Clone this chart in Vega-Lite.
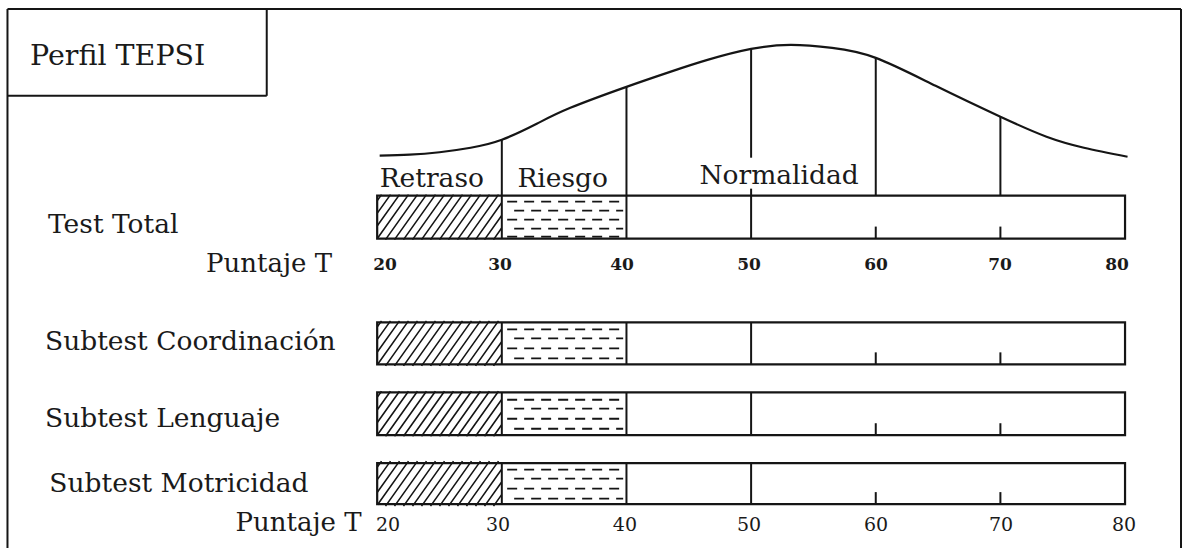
{
  "$schema": "https://vega.github.io/schema/vega-lite/v6.json",
  "width": 1184,
  "height": 549,
  "autosize": {"type": "fit", "contains": "padding"},
  "padding": 0,
  "background": "white",
  "config": {"view": {"stroke": null}},
  "datasets": {
    "curve": [
      {"t": 20.2, "y": 156}, {"t": 22.6, "y": 155}, {"t": 25, "y": 152.5}, {"t": 27.5, "y": 148},
      {"t": 30, "y": 140}, {"t": 32.8, "y": 124}, {"t": 35.5, "y": 108}, {"t": 40, "y": 87},
      {"t": 43.5, "y": 72}, {"t": 46.5, "y": 60}, {"t": 50, "y": 49}, {"t": 53.2, "y": 45},
      {"t": 56.5, "y": 48}, {"t": 60, "y": 58}, {"t": 64.8, "y": 86}, {"t": 70, "y": 117},
      {"t": 73.7, "y": 137}, {"t": 76.7, "y": 148}, {"t": 80.2, "y": 157}
    ],
    "bars": [
      {"row": "Test Total", "lo": 20, "hi": 80, "top": 196, "bottom": 239, "mid": 217.5},
      {"row": "Subtest Coordinación", "lo": 20, "hi": 80, "top": 323, "bottom": 365, "mid": 344},
      {"row": "Subtest Lenguaje", "lo": 20, "hi": 80, "top": 393, "bottom": 436, "mid": 414.5},
      {"row": "Subtest Motricidad", "lo": 20, "hi": 80, "top": 464, "bottom": 505, "mid": 484.5}
    ],
    "segs": [
      {"x": -9.66, "x2": -9.66, "y": 9, "y2": 549},
      {"x": -9.66, "x2": 84.49, "y": 9, "y2": 9},
      {"x": 84.49, "x2": 84.49, "y": 9, "y2": 549},
      {"x": 11.14, "x2": 11.14, "y": 9, "y2": 96},
      {"x": -9.66, "x2": 11.14, "y": 96, "y2": 96},
      {"x": 30, "x2": 30, "y": 140, "y2": 196},
      {"x": 40, "x2": 40, "y": 87, "y2": 196},
      {"x": 50, "x2": 50, "y": 49, "y2": 158},
      {"x": 50, "x2": 50, "y": 189, "y2": 196},
      {"x": 60, "x2": 60, "y": 58, "y2": 196},
      {"x": 70, "x2": 70, "y": 117, "y2": 196},
      {"x": 30, "x2": 30, "y": 196, "y2": 239},
      {"x": 40, "x2": 40, "y": 196, "y2": 239},
      {"x": 50, "x2": 50, "y": 196, "y2": 239},
      {"x": 30, "x2": 30, "y": 323, "y2": 365},
      {"x": 40, "x2": 40, "y": 323, "y2": 365},
      {"x": 50, "x2": 50, "y": 323, "y2": 365},
      {"x": 30, "x2": 30, "y": 393, "y2": 436},
      {"x": 40, "x2": 40, "y": 393, "y2": 436},
      {"x": 50, "x2": 50, "y": 393, "y2": 436},
      {"x": 30, "x2": 30, "y": 464, "y2": 505},
      {"x": 40, "x2": 40, "y": 464, "y2": 505},
      {"x": 50, "x2": 50, "y": 464, "y2": 505},
      {"x": 60, "x2": 60, "y": 227, "y2": 239},
      {"x": 70, "x2": 70, "y": 227, "y2": 239},
      {"x": 60, "x2": 60, "y": 353, "y2": 365},
      {"x": 70, "x2": 70, "y": 353, "y2": 365},
      {"x": 60, "x2": 60, "y": 424, "y2": 436},
      {"x": 70, "x2": 70, "y": 424, "y2": 436},
      {"x": 60, "x2": 60, "y": 493, "y2": 505},
      {"x": 70, "x2": 70, "y": 493, "y2": 505}
    ],
    "texts": [
      {"text": "Perfil TEPSI", "x": -7.85, "y": 65, "kind": "title"},
      {"text": "Retraso", "x": 20.2, "y": 187, "kind": "zone"},
      {"text": "Riesgo", "x": 31.25, "y": 187, "kind": "zone"},
      {"text": "Normalidad", "x": 45.85, "y": 184, "kind": "zone"},
      {"text": "Test Total", "x": -6.41, "y": 233, "kind": "row"},
      {"text": "Subtest Coordinación", "x": -6.65, "y": 351, "kind": "row"},
      {"text": "Subtest Lenguaje", "x": -6.65, "y": 428, "kind": "row"},
      {"text": "Subtest Motricidad", "x": -6.3, "y": 493, "kind": "row"},
      {"text": "Puntaje T", "x": 16.38, "y": 272, "kind": "unit"},
      {"text": "Puntaje T", "x": 18.75, "y": 532, "kind": "unit"},
      {"text": "20", "x": 20.63, "y": 270, "kind": "tick1"},
      {"text": "30", "x": 29.86, "y": 270, "kind": "tick1"},
      {"text": "40", "x": 39.64, "y": 270, "kind": "tick1"},
      {"text": "50", "x": 49.83, "y": 270, "kind": "tick1"},
      {"text": "60", "x": 60.02, "y": 270, "kind": "tick1"},
      {"text": "70", "x": 69.97, "y": 270, "kind": "tick1"},
      {"text": "80", "x": 79.36, "y": 270, "kind": "tick1"},
      {"text": "20", "x": 20.87, "y": 532, "kind": "tick2"},
      {"text": "30", "x": 29.7, "y": 532, "kind": "tick2"},
      {"text": "40", "x": 39.88, "y": 532, "kind": "tick2"},
      {"text": "50", "x": 49.83, "y": 532, "kind": "tick2"},
      {"text": "60", "x": 60.02, "y": 532, "kind": "tick2"},
      {"text": "70", "x": 70.05, "y": 532, "kind": "tick2"},
      {"text": "80", "x": 79.92, "y": 532, "kind": "tick2"}
    ]
  },
  "layer": [
    {
      "data": {"name": "bars"},
      "mark": {
        "type": "point",
        "shape": "M-1,-0.272L-0.935,-0.363M-1,-0.068L-0.79,-0.363M-1,0.136L-0.645,-0.363M-1,0.34L-0.5,-0.363M-0.871,0.363L-0.355,-0.363M-0.726,0.363L-0.21,-0.363M-0.581,0.363L-0.065,-0.363M-0.435,0.363L0.081,-0.363M-0.29,0.363L0.226,-0.363M-0.145,0.363L0.371,-0.363M0,0.363L0.516,-0.363M0.145,0.363L0.661,-0.363M0.29,0.363L0.806,-0.363M0.435,0.363L0.952,-0.363M0.581,0.363L1,-0.227M0.726,0.363L1,-0.023M0.871,0.363L1,0.181",
        "size": 15376,
        "filled": false,
        "stroke": "#151515",
        "strokeWidth": 1.6,
        "opacity": 1
      },
      "encoding": {
        "x": {"datum": 25, "type": "quantitative", "scale": {"domain": [-10.26, 84.73], "nice": false, "zero": false}, "axis": null},
        "y": {"field": "mid", "type": "quantitative", "scale": {"domain": [0, 549], "reverse": true, "nice": false, "zero": false}, "axis": null}
      }
    },
    {
      "data": {"name": "bars"},
      "transform": [{"filter": "datum.row === 'Test Total'"}],
      "mark": {
        "type": "point",
        "shape": "M-0.919,-0.25L-0.758,-0.25M-0.645,-0.25L-0.484,-0.25M-0.371,-0.25L-0.21,-0.25M-0.097,-0.25L0.065,-0.25M0.177,-0.25L0.339,-0.25M0.452,-0.25L0.613,-0.25M0.726,-0.25L0.887,-0.25M-0.806,-0.105L-0.645,-0.105M-0.532,-0.105L-0.371,-0.105M-0.258,-0.105L-0.097,-0.105M0.016,-0.105L0.177,-0.105M0.29,-0.105L0.452,-0.105M0.565,-0.105L0.726,-0.105M0.839,-0.105L0.952,-0.105M-0.919,0.04L-0.758,0.04M-0.645,0.04L-0.484,0.04M-0.371,0.04L-0.21,0.04M-0.097,0.04L0.065,0.04M0.177,0.04L0.339,0.04M0.452,0.04L0.613,0.04M0.726,0.04L0.887,0.04M-0.806,0.185L-0.645,0.185M-0.532,0.185L-0.371,0.185M-0.258,0.185L-0.097,0.185M0.016,0.185L0.177,0.185M0.29,0.185L0.452,0.185M0.565,0.185L0.726,0.185M0.839,0.185L0.952,0.185M-0.919,0.314L-0.758,0.314M-0.645,0.314L-0.484,0.314M-0.371,0.314L-0.21,0.314M-0.097,0.314L0.065,0.314M0.177,0.314L0.339,0.314M0.452,0.314L0.613,0.314M0.726,0.314L0.887,0.314",
        "size": 15376,
        "filled": false,
        "stroke": "#151515",
        "strokeWidth": 1.8,
        "opacity": 1
      },
      "encoding": {
        "x": {"datum": 35, "type": "quantitative", "scale": {"domain": [-10.26, 84.73], "nice": false, "zero": false}, "axis": null},
        "y": {"field": "mid", "type": "quantitative", "scale": {"domain": [0, 549], "reverse": true, "nice": false, "zero": false}, "axis": null}
      }
    },
    {
      "data": {"name": "bars"},
      "transform": [{"filter": "datum.row !== 'Test Total'"}],
      "mark": {
        "type": "point",
        "shape": "M-0.919,-0.226L-0.758,-0.226M-0.645,-0.226L-0.484,-0.226M-0.371,-0.226L-0.21,-0.226M-0.097,-0.226L0.065,-0.226M0.177,-0.226L0.339,-0.226M0.452,-0.226L0.613,-0.226M0.726,-0.226L0.887,-0.226M-0.806,-0.081L-0.645,-0.081M-0.532,-0.081L-0.371,-0.081M-0.258,-0.081L-0.097,-0.081M0.016,-0.081L0.177,-0.081M0.29,-0.081L0.452,-0.081M0.565,-0.081L0.726,-0.081M0.839,-0.081L0.952,-0.081M-0.919,0.081L-0.758,0.081M-0.645,0.081L-0.484,0.081M-0.371,0.081L-0.21,0.081M-0.097,0.081L0.065,0.081M0.177,0.081L0.339,0.081M0.452,0.081L0.613,0.081M0.726,0.081L0.887,0.081M-0.806,0.242L-0.645,0.242M-0.532,0.242L-0.371,0.242M-0.258,0.242L-0.097,0.242M0.016,0.242L0.177,0.242M0.29,0.242L0.452,0.242M0.565,0.242L0.726,0.242M0.839,0.242L0.952,0.242",
        "size": 15376,
        "filled": false,
        "stroke": "#151515",
        "strokeWidth": 1.8,
        "opacity": 1
      },
      "encoding": {
        "x": {"datum": 35, "type": "quantitative", "scale": {"domain": [-10.26, 84.73], "nice": false, "zero": false}, "axis": null},
        "y": {"field": "mid", "type": "quantitative", "scale": {"domain": [0, 549], "reverse": true, "nice": false, "zero": false}, "axis": null}
      }
    },
    {
      "data": {"name": "bars"},
      "mark": {"type": "rect", "fillOpacity": 0, "stroke": "#151515", "strokeWidth": 2.2},
      "encoding": {
        "x": {"field": "lo", "type": "quantitative", "scale": {"domain": [-10.26, 84.73], "nice": false, "zero": false}, "axis": null},
        "x2": {"field": "hi"},
        "y": {"field": "top", "type": "quantitative", "scale": {"domain": [0, 549], "reverse": true, "nice": false, "zero": false}, "axis": null},
        "y2": {"field": "bottom"}
      }
    },
    {
      "data": {"name": "segs"},
      "mark": {"type": "rule", "stroke": "#151515", "strokeWidth": 2},
      "encoding": {
        "x": {"field": "x", "type": "quantitative", "scale": {"domain": [-10.26, 84.73], "nice": false, "zero": false}, "axis": null},
        "x2": {"field": "x2"},
        "y": {"field": "y", "type": "quantitative", "scale": {"domain": [0, 549], "reverse": true, "nice": false, "zero": false}, "axis": null},
        "y2": {"field": "y2"}
      }
    },
    {
      "data": {"name": "curve"},
      "mark": {"type": "line", "stroke": "#151515", "strokeWidth": 2.2, "interpolate": "natural"},
      "encoding": {
        "x": {"field": "t", "type": "quantitative", "scale": {"domain": [-10.26, 84.73], "nice": false, "zero": false}, "axis": null},
        "y": {"field": "y", "type": "quantitative", "scale": {"domain": [0, 549], "reverse": true, "nice": false, "zero": false}, "axis": null}
      }
    },
    {
      "data": {"name": "texts"},
      "transform": [{"filter": "datum.kind === 'title'"}],
      "mark": {"type": "text", "font": "DejaVu Serif", "fontSize": 28.5, "align": "left", "baseline": "alphabetic", "color": "#1a1a1a"},
      "encoding": {
        "x": {"field": "x", "type": "quantitative", "scale": {"domain": [-10.26, 84.73], "nice": false, "zero": false}, "axis": null},
        "y": {"field": "y", "type": "quantitative", "scale": {"domain": [0, 549], "reverse": true, "nice": false, "zero": false}, "axis": null},
        "text": {"field": "text"}
      }
    },
    {
      "data": {"name": "texts"},
      "transform": [{"filter": "datum.kind === 'zone'"}],
      "mark": {"type": "text", "font": "DejaVu Serif", "fontSize": 26.5, "align": "left", "baseline": "alphabetic", "color": "#1a1a1a"},
      "encoding": {
        "x": {"field": "x", "type": "quantitative", "scale": {"domain": [-10.26, 84.73], "nice": false, "zero": false}, "axis": null},
        "y": {"field": "y", "type": "quantitative", "scale": {"domain": [0, 549], "reverse": true, "nice": false, "zero": false}, "axis": null},
        "text": {"field": "text"}
      }
    },
    {
      "data": {"name": "texts"},
      "transform": [{"filter": "datum.kind === 'row'"}],
      "mark": {"type": "text", "font": "DejaVu Serif", "fontSize": 26.5, "align": "left", "baseline": "alphabetic", "color": "#1a1a1a"},
      "encoding": {
        "x": {"field": "x", "type": "quantitative", "scale": {"domain": [-10.26, 84.73], "nice": false, "zero": false}, "axis": null},
        "y": {"field": "y", "type": "quantitative", "scale": {"domain": [0, 549], "reverse": true, "nice": false, "zero": false}, "axis": null},
        "text": {"field": "text"}
      }
    },
    {
      "data": {"name": "texts"},
      "transform": [{"filter": "datum.kind === 'unit'"}],
      "mark": {"type": "text", "font": "DejaVu Serif", "fontSize": 26, "align": "right", "baseline": "alphabetic", "color": "#1a1a1a"},
      "encoding": {
        "x": {"field": "x", "type": "quantitative", "scale": {"domain": [-10.26, 84.73], "nice": false, "zero": false}, "axis": null},
        "y": {"field": "y", "type": "quantitative", "scale": {"domain": [0, 549], "reverse": true, "nice": false, "zero": false}, "axis": null},
        "text": {"field": "text"}
      }
    },
    {
      "data": {"name": "texts"},
      "transform": [{"filter": "datum.kind === 'tick1'"}],
      "mark": {"type": "text", "font": "DejaVu Serif", "fontSize": 17, "fontWeight": "bold", "align": "center", "baseline": "alphabetic", "color": "#1a1a1a"},
      "encoding": {
        "x": {"field": "x", "type": "quantitative", "scale": {"domain": [-10.26, 84.73], "nice": false, "zero": false}, "axis": null},
        "y": {"field": "y", "type": "quantitative", "scale": {"domain": [0, 549], "reverse": true, "nice": false, "zero": false}, "axis": null},
        "text": {"field": "text"}
      }
    },
    {
      "data": {"name": "texts"},
      "transform": [{"filter": "datum.kind === 'tick2'"}],
      "mark": {"type": "text", "font": "DejaVu Serif", "fontSize": 19, "align": "center", "baseline": "alphabetic", "color": "#1a1a1a"},
      "encoding": {
        "x": {"field": "x", "type": "quantitative", "scale": {"domain": [-10.26, 84.73], "nice": false, "zero": false}, "axis": null},
        "y": {"field": "y", "type": "quantitative", "scale": {"domain": [0, 549], "reverse": true, "nice": false, "zero": false}, "axis": null},
        "text": {"field": "text"}
      }
    }
  ]
}
